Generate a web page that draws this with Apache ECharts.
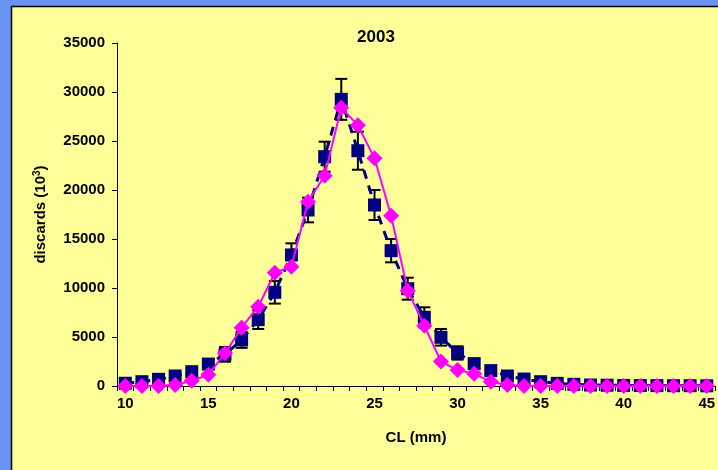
<!DOCTYPE html>
<html><head><meta charset="utf-8">
<script src="https://cdn.jsdelivr.net/npm/echarts@6/dist/echarts.min.js"></script>
<style>html,body{margin:0;padding:0;background:#6b95f5}#c{width:718px;height:470px}</style>
</head><body><div id="c"></div>
<script>
const categories = [10,11,12,13,14,15,16,17,18,19,20,21,22,23,24,25,26,27,28,29,30,31,32,33,34,35,36,37,38,39,40,41,42,43,44,45];
const observed = [280,440,680,1020,1460,2240,3230,4690,6770,9560,13370,17960,23400,29250,24010,18470,13810,9930,7010,4970,3370,2280,1570,1020,710,440,270,170,100,80,60,50,40,30,30,20];
const observedErr = [100,150,200,250,350,500,750,800,950,1150,1190,1260,1530,2090,1940,1530,1190,1120,1020,850,680,500,350,250,200,150,100,80,60,50,40,30,30,20,20,20];
const estimated = [0,0,0,100,540,1150,3330,5950,8090,11560,12180,18810,21460,28400,26600,23230,17380,9730,6150,2500,1620,1240,440,100,0,0,0,0,0,0,0,0,0,0,0,0];
const yTicks = {min:0, max:35000, interval:5000};

const chart = echarts.init(document.getElementById('c'));
const font = 'Liberation Sans, Arial, sans-serif';
chart.setOption({
  backgroundColor: '#6b95f5',
  animation: false,
  graphic: [{type:'rect', shape:{x:11.5, y:6.5, width:720, height:470}, style:{fill:'#ffff99', stroke:'#000', lineWidth:1.5}, z:-10, silent:true}],
  title: {text:'2003', left:371, top:24, textAlign:'center', textStyle:{fontFamily:font, fontWeight:'bold', fontSize:17, color:'#000'}},
  grid: {left:117, right:-5, top:43, bottom:84, containLabel:false},
  xAxis: {
    type:'category', data:categories, boundaryGap:true,
    axisLine:{lineStyle:{color:'#000', width:1}},
    axisTick:{show:true, interval:0, length:5, lineStyle:{color:'#000'}},
    axisLabel:{interval:4, color:'#000', fontFamily:font, fontWeight:'bold', fontSize:15, margin:10},
    name:'CL (mm)', nameLocation:'middle', nameGap:44,
    nameTextStyle:{color:'#000', fontFamily:font, fontWeight:'bold', fontSize:15}
  },
  yAxis: {
    type:'value', min:yTicks.min, max:yTicks.max, interval:yTicks.interval,
    splitLine:{show:false},
    axisLine:{show:true, lineStyle:{color:'#000', width:1}},
    axisTick:{show:true, length:5, lineStyle:{color:'#000'}},
    axisLabel:{color:'#000', fontFamily:font, fontWeight:'bold', fontSize:15, margin:12, formatter: v => String(v)},
    name:'{a|discards (10}{s|3}{a|)}', nameLocation:'middle', nameGap:67,
    nameTextStyle:{rich:{
      a:{color:'#000', fontFamily:font, fontWeight:'bold', fontSize:15},
      s:{color:'#000', fontFamily:font, fontWeight:'bold', fontSize:10, verticalAlign:'top', padding:[0,0,8,0]}
    }}
  },
  series: [
    {
      type:'custom', z:1,
      data: categories.map((c,i)=>[i, observed[i], observedErr[i]]),
      renderItem: function(params, api){
        const i = api.value(0), v = api.value(1), e = api.value(2);
        const top = api.coord([i, v+e]);
        const bot = api.coord([i, Math.max(0, v-e)]);
        const hw = 6;
        const st = {stroke:'#000', lineWidth:2};
        return {type:'group', children:[
          {type:'line', shape:{x1:top[0], y1:top[1], x2:bot[0], y2:bot[1]}, style:st},
          {type:'line', shape:{x1:top[0]-hw, y1:top[1], x2:top[0]+hw, y2:top[1]}, style:st},
          {type:'line', shape:{x1:bot[0]-hw, y1:bot[1], x2:bot[0]+hw, y2:bot[1]}, style:st}
        ]};
      }
    },
    {
      type:'line', z:2, data:observed, symbol:'rect', symbolSize:13, showAllSymbol:true,
      itemStyle:{color:'#000080'},
      lineStyle:{color:'#000080', width:3, type:[9,7]}
    },
    {
      type:'line', z:3, data:estimated, symbol:'diamond', symbolSize:[16,16], showAllSymbol:true,
      itemStyle:{color:'#ff00ff'},
      lineStyle:{color:'#ff00ff', width:2}
    }
  ]
});
</script></body></html>
